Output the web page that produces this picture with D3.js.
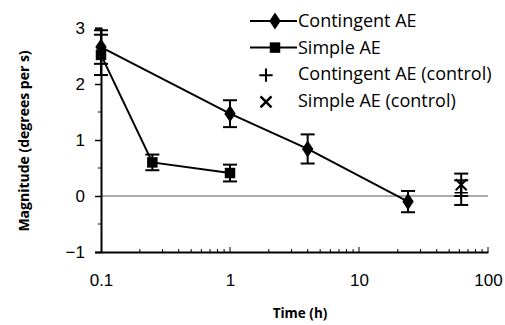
<!DOCTYPE html>
<html>
<head>
<meta charset="utf-8">
<script src="https://cdn.jsdelivr.net/npm/d3@7"></script>
<style>
  body { margin: 0; background: #fff; }
  svg { font-family: "Open Sans", Lato, sans-serif; }
</style>
</head>
<body>
<svg id="chart" width="505" height="325"></svg>
<script>
// contingent AE (diamonds, connected)
var contTime = [0.1, 1, 4, 24];
var contMag = [2.66, 1.47, 0.84, -0.10];
var contErr = [0.30, 0.24, 0.26, 0.19];
// simple AE (squares, connected)
var simpTime = [0.1, 0.25, 1];
var simpMag = [2.52, 0.60, 0.41];
var simpErr = [0.36, 0.14, 0.15];
// controls
var ctrlTime = [62];
var contCtrlMag = [0.06];
var contCtrlErr = [0.22];
var simpCtrlMag = [0.20];
var simpCtrlErr = [0.20];

var yTicks = [-1, 0, 1, 2, 3];
var xTicks = [0.1, 1, 10, 100];
var legendLabels = ["Contingent AE", "Simple AE", "Contingent AE (control)", "Simple AE (control)"];

var svg = d3.select("#chart");

var x = d3.scaleLog().domain([0.1, 100]).range([101, 488]);
var y = d3.scaleLinear().domain([-1, 3]).range([252, 28]);

function zip(t, m, e) {
  return t.map(function (d, i) { return { t: d, m: m[i], e: e[i] }; });
}
var cont = zip(contTime, contMag, contErr);
var simp = zip(simpTime, simpMag, simpErr);
var contCtrl = zip(ctrlTime, contCtrlMag, contCtrlErr);
var simpCtrl = zip(ctrlTime, simpCtrlMag, simpCtrlErr);

// zero line
svg.append("line")
  .attr("x1", x(0.1)).attr("x2", x(100))
  .attr("y1", y(0)).attr("y2", y(0))
  .attr("stroke", "#555").attr("stroke-width", 1);

// y axis
var yAxis = svg.append("g")
  .attr("transform", "translate(" + x(0.1) + ",0)")
  .call(d3.axisLeft(y).tickValues(yTicks).tickSize(6).tickPadding(10).tickFormat(d3.format("d")));
yAxis.select(".domain").attr("stroke-width", 2);
yAxis.selectAll(".tick line").attr("stroke-width", 1.5);
yAxis.selectAll("text").attr("font-size", 17).attr("fill", "#000");

// minor y ticks
svg.append("g").selectAll("line")
  .data([-0.5, 0.5, 1.5, 2.5])
  .join("line")
  .attr("x1", x(0.1) - 3).attr("x2", x(0.1))
  .attr("y1", function (d) { return y(d); }).attr("y2", function (d) { return y(d); })
  .attr("stroke", "#000");

// x axis
var xAxis = svg.append("g")
  .attr("transform", "translate(0," + y(-1) + ")")
  .call(d3.axisBottom(x).tickValues(xTicks).tickSize(0).tickPadding(22).tickFormat(function (d) { return d; }));
xAxis.select(".domain").attr("stroke-width", 2);
xAxis.selectAll("text").attr("font-size", 17).attr("fill", "#000");

// minor x ticks pointing up
var minor = [];
[0.1, 1, 10].forEach(function (dec) {
  for (var k = 2; k <= 9; k++) minor.push(dec * k);
});
svg.append("g").selectAll("line")
  .data(minor.concat([1, 10, 100]))
  .join("line")
  .attr("x1", function (d) { return x(d); }).attr("x2", function (d) { return x(d); })
  .attr("y1", y(-1)).attr("y2", function (d) { return y(-1) - (xTicks.indexOf(d) >= 0 ? 5 : 3); })
  .attr("stroke", "#000");

// axis titles
svg.append("text")
  .attr("x", 300).attr("y", 318)
  .attr("text-anchor", "middle")
  .attr("font-size", 13.5).attr("font-weight", "bold")
  .text("Time (h)");
svg.append("text")
  .attr("transform", "translate(29,141) rotate(-90)")
  .attr("text-anchor", "middle")
  .attr("font-size", 14).attr("font-weight", "bold")
  .text("Magnitude (degrees per s)");

var line = d3.line()
  .x(function (d) { return x(d.t); })
  .y(function (d) { return y(d.m); });

function errorBars(data) {
  var g = svg.append("g").attr("stroke", "#000").attr("stroke-width", 2);
  data.forEach(function (d) {
    var cx = x(d.t);
    g.append("line").attr("x1", cx).attr("x2", cx).attr("y1", y(d.m - d.e)).attr("y2", y(d.m + d.e));
    g.append("line").attr("x1", cx - 7).attr("x2", cx + 7).attr("y1", y(d.m - d.e)).attr("y2", y(d.m - d.e));
    g.append("line").attr("x1", cx - 7).attr("x2", cx + 7).attr("y1", y(d.m + d.e)).attr("y2", y(d.m + d.e));
  });
}

errorBars(cont);
errorBars(simp);
errorBars(contCtrl);
errorBars(simpCtrl);

svg.append("path").datum(cont).attr("d", line)
  .attr("fill", "none").attr("stroke", "#000").attr("stroke-width", 2);
svg.append("path").datum(simp).attr("d", line)
  .attr("fill", "none").attr("stroke", "#000").attr("stroke-width", 2);

var diamond = d3.symbol().type(d3.symbolDiamond).size(85);
var square = d3.symbol().type(d3.symbolSquare).size(110);
var plus = d3.symbol().type(d3.symbolPlus).size(60);
var star = d3.symbol().type(d3.symbolTimes).size(80);

svg.append("g").selectAll("path").data(cont).join("path")
  .attr("transform", function (d) { return "translate(" + x(d.t) + "," + y(d.m) + ") scale(1.15,1)"; })
  .attr("d", diamond).attr("fill", "#000");
svg.append("g").selectAll("path").data(simp).join("path")
  .attr("transform", function (d) { return "translate(" + x(d.t) + "," + y(d.m) + ")"; })
  .attr("d", square).attr("fill", "#000");
svg.append("g").selectAll("path").data(contCtrl).join("path")
  .attr("transform", function (d) { return "translate(" + x(d.t) + "," + y(d.m) + ")"; })
  .attr("d", plus).attr("fill", "none").attr("stroke", "#000").attr("stroke-width", 1.5);
svg.append("g").selectAll("path").data(simpCtrl).join("path")
  .attr("transform", function (d) { return "translate(" + x(d.t) + "," + y(d.m) + ")"; })
  .attr("d", star).attr("fill", "none").attr("stroke", "#000").attr("stroke-width", 2);

// legend
var legend = svg.append("g").attr("transform", "translate(250,21)");
var rowH = 26.6;
legendLabels.forEach(function (lab, i) {
  var row = legend.append("g").attr("transform", "translate(0," + i * rowH + ")");
  if (i < 2) {
    row.append("line").attr("x1", 0).attr("x2", 47).attr("y1", 0).attr("y2", 0)
      .attr("stroke", "#000").attr("stroke-width", 2);
    row.append("path")
      .attr("transform", "translate(25,0)" + (i === 0 ? " scale(1.15,1)" : ""))
      .attr("d", i === 0 ? diamond : square).attr("fill", "#000");
  } else {
    row.append("path").attr("transform", "translate(16,1)")
      .attr("d", i === 2 ? plus : star).attr("fill", "none")
      .attr("stroke", "#000").attr("stroke-width", i === 2 ? 2 : 2.5);
  }
  row.append("text").attr("x", 48).attr("y", 6)
    .attr("font-size", 18).text(lab);
});
</script>
</body>
</html>
